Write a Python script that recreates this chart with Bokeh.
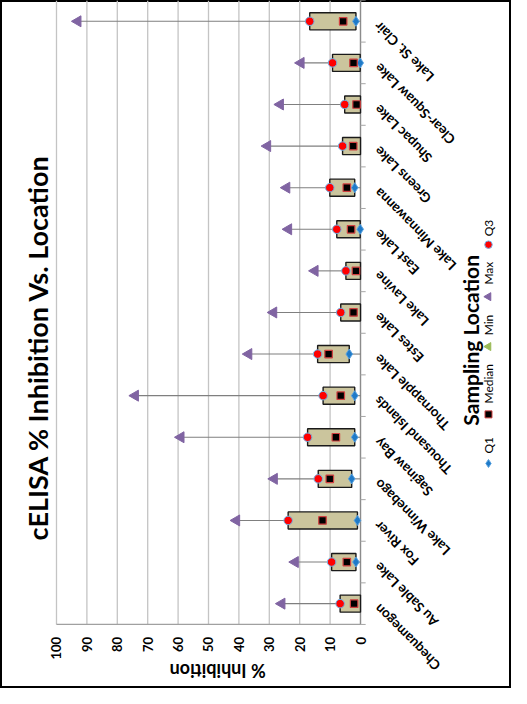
import math
from bokeh.plotting import figure
from bokeh.models import Range1d
from bokeh.core.properties import value
from bokeh.embed import file_html
from bokeh.resources import INLINE

# ---------------- data (bottom to top as drawn) ----------------
locations = ["Chequamegon", "Au Sable Lake", "Fox River", "Lake Winnebago", "Saginaw Bay",
             "Thousand Islands", "Thornapple Lake", "Estes Lake", "Lake Lavine", "East Lake",
             "Lake Minnawanna", "Greens Lake", "Shupac Lake", "Clear-Squaw Lake", "Lake St. Clair"]
q1_vals = [0.0, 1.5, 1.0, 2.9, 1.9, 1.9, 3.7, 0.0, 0.0, 0.1, 1.9, 0.0, 0.0, 0.1, 1.5]
median_vals = [2.1, 4.5, 12.5, 10.1, 8.1, 6.5, 10.5, 2.3, 1.5, 3.1, 4.5, 2.4, 1.3, 2.3, 5.7]
q3_vals = [6.7, 9.5, 23.8, 13.9, 17.4, 12.3, 14.1, 6.5, 4.8, 7.8, 10.1, 5.9, 5.2, 9.2, 16.7]
max_vals = [25.9, 21.5, 40.8, 28.4, 59.1, 74.1, 36.8, 28.6, 15.0, 23.7, 24.3, 30.6, 26.4, 19.6, 93.0]
min_vals = [0, 0, 0, 0, 0, 0, 0, 0, 0, 0, 0, 0, 0, 0, 0]
value_ticks = [0, 10, 20, 30, 40, 50, 60, 70, 80, 90, 100]
value_tick_labels = ["0", "10", "20", "30", "40", "50", "60", "70", "80", "90", "100"]
legend_labels = ["Q1", "Median", "Min", "Max", "Q3"]

title_text = "cELISA % Inhibition Vs. Location"
value_axis_title = "% Inhibition"
category_axis_title = "Sampling Location"

# ---------------- styles ----------------
FONT = "Lato"
BOX_FILL = "#CBC59D"
Q1_COLOR = "#1F7AC8"
Q3_COLOR = "#FF0000"
MED_COLOR = "#000000"
MAX_COLOR = "#8064A2"
MIN_COLOR = "#9BBB59"
WHISKER = "#7F7F7F"
GRID = "#C4C4C4"
AXIS = "#A0A0A0"

pos = list(range(len(locations)))
n = len(locations)
y_lo = -0.5            # value-axis line (bottom of the category band)
y_hi = n - 0.5

# The chart is drawn rotated: the value axis runs right-to-left along the bottom,
# categories run bottom-to-top; the frame spans the whole canvas and also holds
# the rotated titles, tick labels, category labels and legend.
p = figure(width=511, height=688,
           x_range=Range1d(118.42, -49.67), y_range=Range1d(-2.04, y_hi),
           output_backend="svg", toolbar_location=None,
           min_border_left=0, min_border_right=0, min_border_top=0, min_border_bottom=0)
p.outline_line_color = "black"
p.outline_line_width = 3
p.axis.visible = False
p.grid.visible = False
p.background_fill_color = "white"
p.border_fill_color = "white"

# chart title (reads bottom to top)
p.text(x=[106.2], y=[6.16], text=[title_text], angle=math.pi / 2,
       text_align="center", text_baseline="middle", text_font=value(FONT),
       text_font_style="bold", text_font_size="27px", text_color="black")

# value gridlines and value-axis line
p.segment(x0=value_ticks, y0=[y_lo] * len(value_ticks), x1=value_ticks, y1=[y_hi] * len(value_ticks),
          line_color=GRID, line_width=1.3)
p.segment(x0=[max(value_ticks)], y0=[y_lo], x1=[min(value_ticks)], y1=[y_lo],
          line_color=AXIS, line_width=1.3)
# value tick labels (rotated, read bottom to top)
p.text(x=value_ticks, y=[y_lo - 0.3] * len(value_ticks), text=value_tick_labels, angle=math.pi / 2,
       text_align="right", text_baseline="middle", text_font=value(FONT),
       text_font_style="bold", text_font_size="13px", text_color="black")
# value axis title (upside down)
p.text(x=[(max(value_ticks) + min(value_ticks)) / 2 - 3], y=[y_lo - 1.13], text=[value_axis_title],
       angle=math.pi, text_align="center", text_baseline="middle", text_font=value(FONT),
       text_font_style="bold", text_font_size="18px", text_color="black")

# category axis line at 0 with small ticks between categories
p.segment(x0=[0], y0=[y_lo], x1=[0], y1=[y_hi], line_color="#8C8C8C", line_width=1.3)
bounds_y = [i - 0.5 for i in range(n + 1)]
p.segment(x0=[0] * len(bounds_y), y0=bounds_y, x1=[-1.7] * len(bounds_y), y1=bounds_y,
          line_color="#A6A6A6", line_width=1)

# whiskers
p.segment(x0=q3_vals, y0=pos, x1=max_vals, y1=pos, line_color=WHISKER, line_width=1.1)
p.segment(x0=min_vals, y0=pos, x1=q1_vals, y1=pos, line_color=WHISKER, line_width=1.1)

# boxes
p.hbar(y=pos, left=q1_vals, right=q3_vals, height=0.41, fill_color=BOX_FILL,
       line_color="#1A1A1A", line_width=1.4)

# markers
p.scatter(x=max_vals, y=pos, marker="triangle", angle=math.pi / 2, size=11,
          fill_color=MAX_COLOR, line_color=MAX_COLOR)
q1_x = [v for v in q1_vals if v > 0]
q1_y = [i for i, v in zip(pos, q1_vals) if v > 0]
p.scatter(x=q1_x, y=q1_y, marker="diamond", size=10, fill_color=Q1_COLOR,
          line_color="#5BA3E0", line_width=1)
p.scatter(x=q3_vals, y=pos, marker="circle", size=8.5, fill_color=Q3_COLOR,
          line_color="#6FB3E8", line_width=1)
p.scatter(x=median_vals, y=pos, marker="square", size=7.5, fill_color=MED_COLOR,
          line_color="#D04040", line_width=1.2)

# category labels (rotated, upside down)
p.text(x=[-5.3] * n, y=[v - 0.07 for v in pos], text=locations, angle=3 * math.pi / 4,
       text_align="right", text_baseline="middle", text_font=value(FONT),
       text_font_style="bold", text_font_size="13.5px", text_color="black")

# category axis title
p.text(x=[-36.2], y=[6.33], text=[category_axis_title], angle=math.pi / 2,
       text_align="center", text_baseline="middle", text_font=value(FONT),
       text_font_style="bold", text_font_size="21px", text_color="black")

# legend (rotated)
LEG_X = -42.1
leg_marker_y = [3.37, 4.55, 6.18, 7.38, 8.63]
leg_text_y = [3.61, 4.81, 6.45, 7.67, 8.83]
leg_markers = ["diamond", "square", "triangle", "triangle", "circle"]
leg_colors = [Q1_COLOR, MED_COLOR, MIN_COLOR, MAX_COLOR, Q3_COLOR]
leg_lines = ["#5BA3E0", "#D04040", MIN_COLOR, MAX_COLOR, "#6FB3E8"]
leg_sizes = [8, 7, 8, 8, 7.5]
for mk, col, lc, sz, my in zip(leg_markers, leg_colors, leg_lines, leg_sizes, leg_marker_y):
    p.scatter(x=[LEG_X], y=[my], marker=mk, size=sz, fill_color=col, line_color=lc,
              angle=math.pi / 2 if mk == "triangle" else 0)
p.text(x=[LEG_X] * len(legend_labels), y=leg_text_y, text=legend_labels, angle=math.pi / 2,
       text_align="left", text_baseline="middle", text_font=value(FONT),
       text_font_size="12px", text_color="black")

open("out.html", "w").write(file_html(p, INLINE))
